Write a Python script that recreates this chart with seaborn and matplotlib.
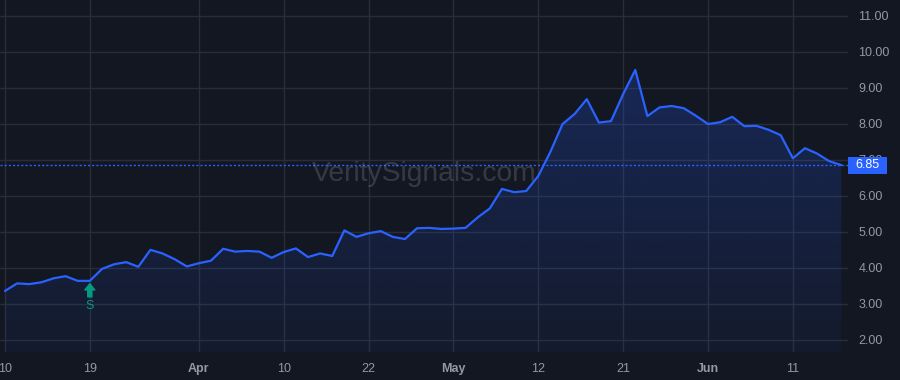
import numpy as np
import pandas as pd
import matplotlib
matplotlib.use("Agg")
import matplotlib.pyplot as plt
from matplotlib.patches import Rectangle
from matplotlib.transforms import blended_transform_factory
import seaborn as sns

# ---------------- data ----------------
holidays = ["2025-04-18", "2025-05-26"]
dates = [d for d in pd.bdate_range("2025-03-10", "2025-06-17") if d.strftime("%Y-%m-%d") not in holidays]

prices = [3.36, 3.57, 3.55, 3.60, 3.71, 3.77, 3.64, 3.64, 3.97, 4.10,
          4.16, 4.03, 4.50, 4.40, 4.24, 4.04, 4.13, 4.20, 4.53, 4.45,
          4.47, 4.45, 4.28, 4.44, 4.54, 4.30, 4.40, 4.33, 5.04, 4.86,
          4.96, 5.02, 4.86, 4.80, 5.10, 5.11, 5.08, 5.09, 5.11, 5.40,
          5.65, 6.19, 6.10, 6.13, 6.55, 7.22, 7.99, 8.27, 8.68, 8.03,
          8.07, 8.82, 9.49, 8.21, 8.45, 8.49, 8.43, 8.22, 7.99, 8.04,
          8.19, 7.93, 7.94, 7.83, 7.68, 7.04, 7.32, 7.17, 6.96, 6.85]

tick_dates = ["2025-03-10", "2025-03-19", "2025-04-01", "2025-04-10", "2025-04-22",
              "2025-05-01", "2025-05-12", "2025-05-21", "2025-06-02", "2025-06-11"]
tick_labels = ["10", "19", "Apr", "10", "22", "May", "12", "21", "Jun", "11"]
month_labels = ["Apr", "May", "Jun"]

y_ticks = [2, 3, 4, 5, 6, 7, 8, 9, 10, 11]

signal_date = "2025-03-19"
signal_label = "S"
last_price = prices[-1]
watermark = "VeritySignals.com"

df = pd.DataFrame({"date": dates, "price": prices})
df["idx"] = np.arange(len(df))
date_to_idx = {d.strftime("%Y-%m-%d"): i for i, d in enumerate(df["date"])}

# ---------------- style ----------------
BG = "#131722"
GRID = "#292d38"
BLUE = "#2962ff"
LABEL = "#9598a1"
TEAL = "#089981"

sns.set_theme(style="dark")
plt.rcParams["font.family"] = ["Liberation Sans", "DejaVu Sans"]

fig = plt.figure(figsize=(9, 3.8), dpi=100, facecolor=BG)
ax = fig.add_axes([0, 28 / 380, 848 / 900, 352 / 380])
ax.set_facecolor(BG)

# line
sns.lineplot(data=df, x="idx", y="price", ax=ax, color=BLUE, linewidth=1.6, zorder=4)

ax.set_xlim(-0.41, 69.55)
ax.set_ylim(1.667, 11.43)

# gradient fill under line
x = df["idx"].values
y = df["price"].values
ymin, ymax = ax.get_ylim()
poly = ax.fill_between(x, y, ymin, color="none", lw=0)
grad = np.zeros((256, 1, 4))
rgb = matplotlib.colors.to_rgb(BLUE)
grad[:, :, 0] = rgb[0]
grad[:, :, 1] = rgb[1]
grad[:, :, 2] = rgb[2]
grad[:, 0, 3] = np.linspace(0.28, 0.05, 256)
xlim = ax.get_xlim()
im = ax.imshow(grad, extent=[xlim[0], xlim[1], ymin, ymax], aspect="auto",
               origin="upper", zorder=2)
path = poly.get_paths()[0]
im.set_clip_path(path, transform=ax.transData)
ax.set_xlim(xlim)
ax.set_ylim(ymin, ymax)

# grid
ax.set_xticks([date_to_idx[d] for d in tick_dates])
ax.set_xticklabels(tick_labels)
ax.set_yticks(y_ticks)
ax.set_yticklabels([f"{v:.2f}" for v in y_ticks])
ax.grid(True, color=GRID, linewidth=1, zorder=1)
ax.set_axisbelow(True)
for s in ax.spines.values():
    s.set_visible(False)
ax.yaxis.tick_right()
ax.tick_params(axis="y", length=0, pad=7.5, labelsize=9, labelcolor=LABEL)
ax.tick_params(axis="x", length=0, pad=8, labelsize=9, labelcolor=LABEL)
for lab in ax.get_xticklabels():
    if lab.get_text() in month_labels:
        lab.set_fontweight("bold")
ax.set_xlabel("")
ax.set_ylabel("")

# last price dotted line
ax.axhline(last_price, color=BLUE, linewidth=1, linestyle=(0, (1.5, 1.5)), zorder=3)

# last price label box
tr = blended_transform_factory(ax.transAxes, ax.transData)
h = 17 / 36.06
rect = Rectangle((1.0, last_price - h / 2), 39 / 848, h, transform=tr,
                 facecolor=BLUE, edgecolor="none", clip_on=False, zorder=10)
ax.add_patch(rect)
ax.text(1.0 + 19.5 / 848, last_price, f"{last_price:.2f}", transform=tr,
        ha="center", va="center", color="white", fontsize=9, clip_on=False, zorder=11)

# watermark
ax.text(0.5, 0.505, watermark, transform=ax.transAxes, ha="center", va="center",
        fontsize=20.3, color="#9598a1", alpha=0.27, zorder=3)

# signal marker
si = date_to_idx[signal_date]
sp = prices[si]
ax.annotate("", xy=(si, sp), xycoords="data",
            xytext=(0, -16), textcoords="offset pixels",
            arrowprops=dict(arrowstyle="simple,head_length=0.6,head_width=0.95,tail_width=0.4",
                            color=TEAL, shrinkA=0, shrinkB=2, mutation_scale=7.5),
            zorder=6)
ax.annotate(signal_label, xy=(si, sp), xycoords="data",
            xytext=(0, -25), textcoords="offset pixels",
            ha="center", va="center", color=TEAL, fontsize=9, zorder=6)

fig.savefig("out.png", dpi=100, facecolor=BG)
